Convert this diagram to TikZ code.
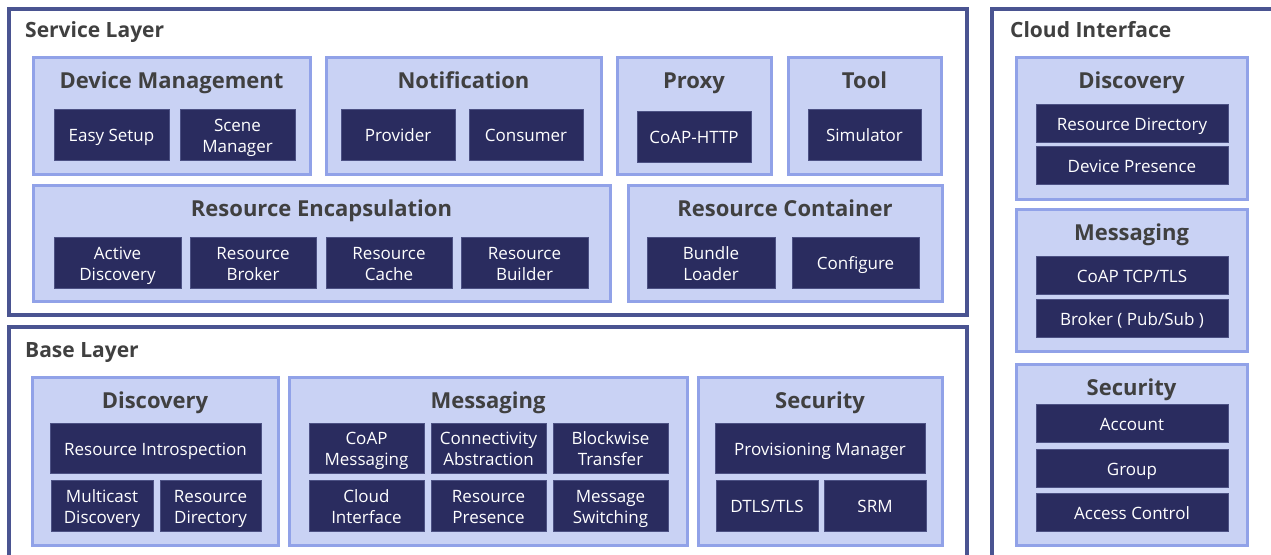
\documentclass[tikz,border=0pt]{standalone}
\usepackage{fontspec}
\setmainfont{Open Sans}
\definecolor{frame}{HTML}{4A5491}
\definecolor{lfill}{HTML}{C9D2F4}
\definecolor{ldraw}{HTML}{91A2E8}
\definecolor{dfill}{HTML}{2A2C5F}
\definecolor{ddraw}{HTML}{4C5184}
\definecolor{ttext}{HTML}{404040}
% box only
\newcommand\gb[6]{\node[#1, minimum width={(#5-#3)*1pt}, minimum height={(#6-#4)*1pt}] (#2) at ({(#3+#5)/2},{(#4+#6)/2}) {};}
% dark box with text
\newcommand\db[6]{\node[dk, minimum width={(#4-#2)*1pt}, minimum height={(#5-#3)*1pt}] (#1) at ({(#2+#4)/2},{(#3+#5)/2}) {};
  \node[dktext] (#1-t) at ([yshift=-3pt]#1.center) {#6};}
\newcommand\sr{\strut}
\tikzset{
  outerframe/.style={draw=frame, line width=3.5pt, fill=white, inner sep=0pt, outer sep=0pt},
  group/.style={draw=ldraw, fill=lfill, line width=3pt, inner sep=0pt, outer sep=0pt},
  dk/.style={draw=ddraw, fill=dfill, line width=0.8pt, inner sep=0pt, outer sep=0pt},
  dktext/.style={text=white, inner sep=0pt, align=center, font=\fontsize{17}{21}\selectfont},
  gtitle/.style={text=ttext, font=\fontsize{22}{26}\selectfont\bfseries, inner sep=0pt, anchor=base},
  ltitle/.style={text=ttext, font=\fontsize{21}{25}\selectfont\bfseries, inner sep=0pt, anchor=base west},
}
\begin{document}
\begin{tikzpicture}[x=1pt,y=-1pt]
\useasboundingbox (0,0) rectangle (1271,554);
\clip (0,0) rectangle (1271,554);
\fill[white] (0,0) rectangle (1271,554);
% ---------- outer frames
\gb{outerframe}{service}{9}{9}{967}{315}
\gb{outerframe}{base}{9}{327}{967}{620}
\gb{outerframe}{cloud}{992}{9}{1320}{620}
\node[ltitle] (serviceT) at (25,37) {Service Layer};
\node[ltitle] (baseT) at (25,357) {Base Layer};
\node[ltitle] (cloudT) at (1010,37) {Cloud Interface};
% ---------- Service layer groups
\gb{group}{devmgmt}{33}{57}{310}{174}
\node[gtitle] (devmgmtT) at (171.5,88) {Device Management};
\db{easy}{54}{109}{169}{160}{Easy Setup\sr}
\db{scene}{180}{109}{295}{160}{Scene\sr\\Manager\sr}

\gb{group}{notif}{326}{57}{601}{174}
\node[gtitle] (notifT) at (463.5,88) {Notification};
\db{provider}{341}{109}{455}{160}{Provider\sr}
\db{consumer}{469}{109}{583}{160}{Consumer\sr}

\gb{group}{proxy}{617}{57}{771}{174}
\node[gtitle] (proxyT) at (694,88) {Proxy};
\db{coaphttp}{637}{111}{751}{162}{CoAP-HTTP\sr}

\gb{group}{tool}{788}{57}{941}{174}
\node[gtitle] (toolT) at (864.5,88) {Tool};
\db{sim}{808}{109}{921}{160}{Simulator\sr}

\gb{group}{resenc}{33}{185}{610}{301}
\node[gtitle] (resencT) at (321.5,216) {Resource Encapsulation};
\db{actdisc}{54}{237}{181}{288}{Active\sr\\Discovery\sr}
\db{broker}{190}{237}{316}{288}{Resource\sr\\Broker\sr}
\db{cache}{326}{237}{452}{288}{Resource\sr\\Cache\sr}
\db{builder}{461}{237}{588}{288}{Resource\sr\\Builder\sr}

\gb{group}{rescont}{628}{185}{942}{301}
\node[gtitle] (rescontT) at (785,216) {Resource Container};
\db{bundle}{647}{237}{775}{288}{Bundle\sr\\Loader\sr}
\db{config}{792}{237}{919}{288}{Configure\sr}
% ---------- Base layer groups
\gb{group}{bdisc}{32}{377}{278}{545}
\node[gtitle] (bdiscT) at (155,408) {Discovery};
\db{intro}{50}{423}{261}{473}{Resource Introspection\sr}
\db{mcast}{51}{480}{153}{531}{Multicast\sr\\Discovery\sr}
\db{resdir}{160}{480}{261}{531}{Resource\sr\\Directory\sr}

\gb{group}{bmsg}{289}{377}{687}{545}
\node[gtitle] (bmsgT) at (488,408) {Messaging};
\db{coapmsg}{309}{423}{424}{473}{CoAP\sr\\Messaging\sr}
\db{connab}{431}{423}{546}{473}{Connectivity\sr\\Abstraction\sr}
\db{blockwise}{553}{423}{668}{473}{Blockwise\sr\\Transfer\sr}
\db{cloudif}{309}{480}{424}{531}{Cloud\sr\\Interface\sr}
\db{respres}{431}{480}{546}{531}{Resource\sr\\Presence\sr}
\db{msgsw}{553}{480}{668}{531}{Message\sr\\Switching\sr}

\gb{group}{bsec}{698}{377}{942}{545}
\node[gtitle] (bsecT) at (820,408) {Security};
\db{prov}{715}{423}{925}{473}{Provisioning Manager\sr}
\db{dtls}{716}{480}{818}{531}{DTLS/TLS\sr}
\db{srm}{824}{480}{926}{531}{SRM\sr}
% ---------- Cloud interface groups
\gb{group}{cdisc}{1016}{57}{1247}{199}
\node[gtitle] (cdiscT) at (1131.5,88) {Discovery};
\db{cresdir}{1036}{104}{1228}{142}{Resource Directory\sr}
\db{devpres}{1036}{146}{1228}{184}{Device Presence\sr}

\gb{group}{cmsg}{1016}{209}{1247}{351}
\node[gtitle] (cmsgT) at (1131.5,240) {Messaging};
\db{coaptcp}{1036}{256}{1228}{294}{CoAP TCP/TLS\sr}
\db{pubsub}{1036}{299}{1228}{337}{Broker ( Pub/Sub )\sr}

\gb{group}{csec}{1016}{364}{1247}{545}
\node[gtitle] (csecT) at (1131.5,395) {Security};
\db{account}{1036}{404}{1228}{442}{Account\sr}
\db{cgroup}{1036}{449}{1228}{487}{Group\sr}
\db{access}{1036}{493}{1228}{531}{Access Control\sr}
\end{tikzpicture}
\end{document}
